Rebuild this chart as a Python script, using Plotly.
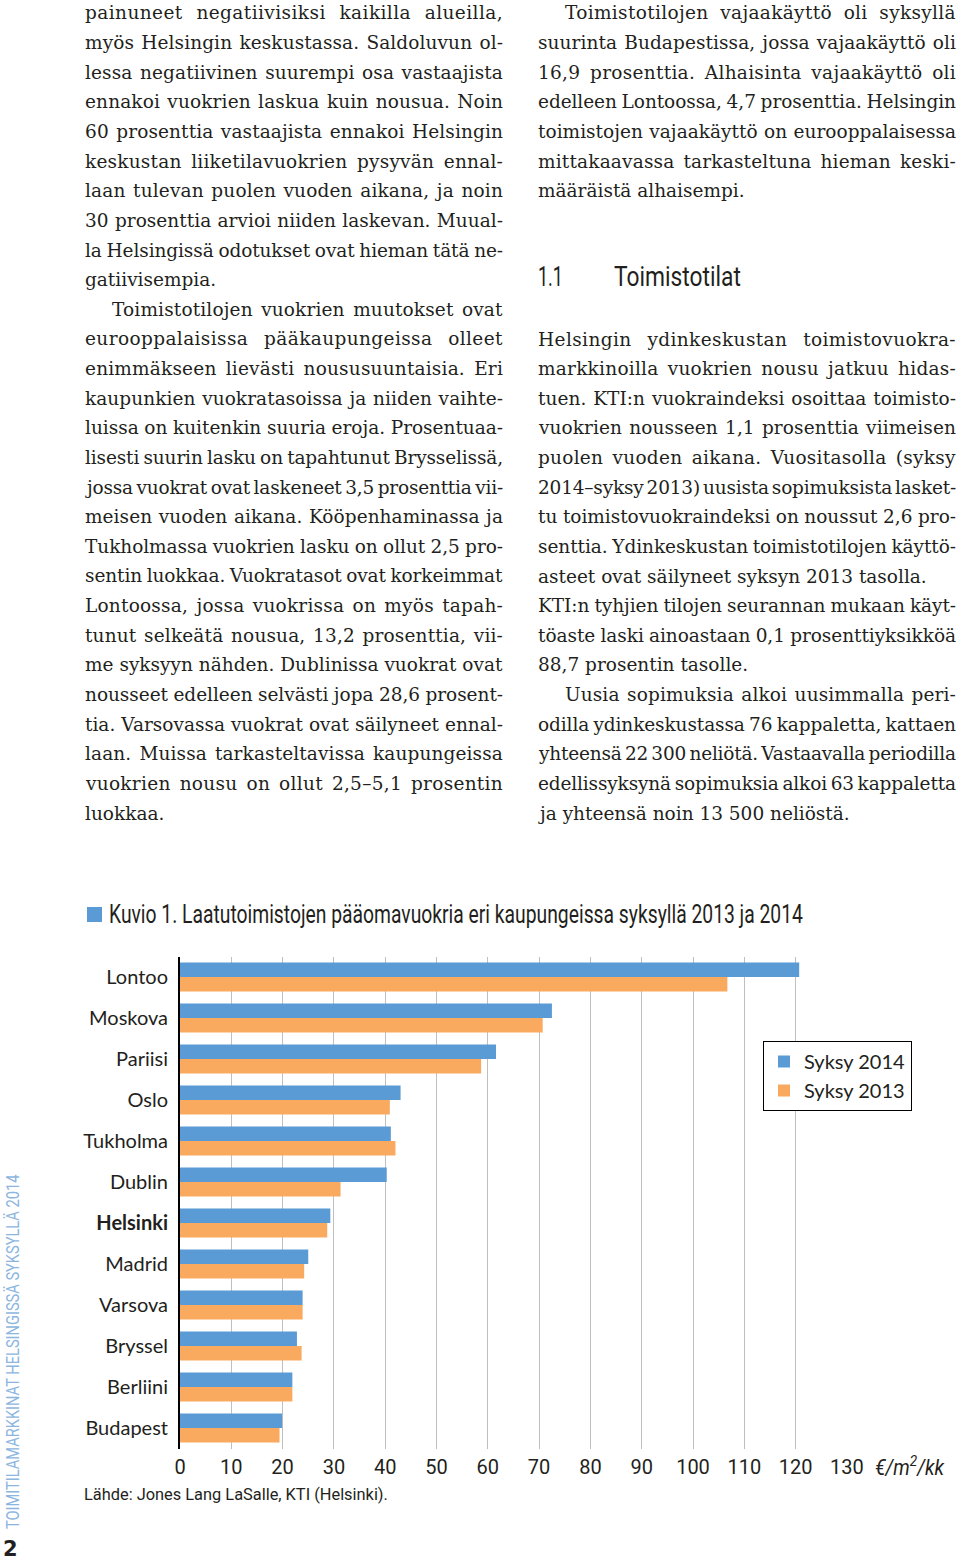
import json
import plotly.graph_objects as go

W, H = 960, 1561

cities = ["Lontoo", "Moskova", "Pariisi", "Oslo", "Tukholma", "Dublin", "Helsinki",
          "Madrid", "Varsova", "Bryssel", "Berliini", "Budapest"]
rent_2014 = [120.7, 72.5, 61.6, 43.0, 41.1, 40.3, 29.3, 25.0, 23.9, 22.8, 21.9, 19.9]
rent_2013 = [106.7, 70.7, 58.7, 40.9, 42.0, 31.3, 28.7, 24.2, 23.9, 23.7, 21.9, 19.4]
x_ticks = list(range(0, 140, 10))
series_names = ["Syksy 2014", "Syksy 2013"]

left_col = [
    "painuneet negatiivisiksi kaikilla alueilla,",
    "myös Helsingin keskustassa. Saldoluvun ol-",
    "lessa negatiivinen suurempi osa vastaajista",
    "ennakoi vuokrien laskua kuin nousua. Noin",
    "60 prosenttia vastaajista ennakoi Helsingin",
    "keskustan liiketilavuokrien pysyvän ennal-",
    "laan tulevan puolen vuoden aikana, ja noin",
    "30 prosenttia arvioi niiden laskevan. Muual-",
    "la Helsingissä odotukset ovat hieman tätä ne-",
    "gatiivisempia.",
    "Toimistotilojen vuokrien muutokset ovat",
    "eurooppalaisissa pääkaupungeissa olleet",
    "enimmäkseen lievästi noususuuntaisia. Eri",
    "kaupunkien vuokratasoissa ja niiden vaihte-",
    "luissa on kuitenkin suuria eroja. Prosentuaa-",
    "lisesti suurin lasku on tapahtunut Brysselissä,",
    "jossa vuokrat ovat laskeneet 3,5 prosenttia vii-",
    "meisen vuoden aikana. Kööpenhaminassa ja",
    "Tukholmassa vuokrien lasku on ollut 2,5 pro-",
    "sentin luokkaa. Vuokratasot ovat korkeimmat",
    "Lontoossa, jossa vuokrissa on myös tapah-",
    "tunut selkeätä nousua, 13,2 prosenttia, vii-",
    "me syksyyn nähden. Dublinissa vuokrat ovat",
    "nousseet edelleen selvästi jopa 28,6 prosent-",
    "tia. Varsovassa vuokrat ovat säilyneet ennal-",
    "laan. Muissa tarkasteltavissa kaupungeissa",
    "vuokrien nousu on ollut 2,5–5,1 prosentin",
    "luokkaa.",
]
left_indent = {10}
left_ragged = {9, 27}

right_top = [
    "Toimistotilojen vajaakäyttö oli syksyllä",
    "suurinta Budapestissa, jossa vajaakäyttö oli",
    "16,9 prosenttia. Alhaisinta vajaakäyttö oli",
    "edelleen Lontoossa, 4,7 prosenttia. Helsingin",
    "toimistojen vajaakäyttö on eurooppalaisessa",
    "mittakaavassa tarkasteltuna hieman keski-",
    "määräistä alhaisempi.",
]
right_top_indent = {0}
right_top_ragged = {6}

right_bottom = [
    "Helsingin ydinkeskustan toimistovuokra-",
    "markkinoilla vuokrien nousu jatkuu hidas-",
    "tuen. KTI:n vuokraindeksi osoittaa toimisto-",
    "vuokrien nousseen 1,1 prosenttia viimeisen",
    "puolen vuoden aikana. Vuositasolla (syksy",
    "2014–syksy 2013) uusista sopimuksista lasket-",
    "tu toimistovuokraindeksi on noussut 2,6 pro-",
    "senttia. Ydinkeskustan toimistotilojen käyttö-",
    "asteet ovat säilyneet syksyn 2013 tasolla.",
    "KTI:n tyhjien tilojen seurannan mukaan käyt-",
    "töaste laski ainoastaan 0,1 prosenttiyksikköä",
    "88,7 prosentin tasolle.",
    "Uusia sopimuksia alkoi uusimmalla peri-",
    "odilla ydinkeskustassa 76 kappaletta, kattaen",
    "yhteensä 22 300 neliötä. Vastaavalla periodilla",
    "edellissyksynä sopimuksia alkoi 63 kappaletta",
    "ja yhteensä noin 13 500 neliöstä.",
]
right_bottom_indent = {12}
right_bottom_ragged = {8, 11, 16}

BLUE = "#5B9BD5"
ORANGE = "#F9AA5F"
TEXT = "#231F20"
SERIF = "DejaVu Serif, serif"
COND = "Roboto, sans-serif"
CAL = "Lato, Open Sans, sans-serif"
BODY_SIZE = 18.5
LINE = 29.63

def px(x):
    return x / W

def py(y):
    return 1 - y / H

fig = go.Figure()
fig.add_trace(go.Bar(y=cities, x=rent_2014, name=series_names[0], orientation="h",
                     marker=dict(color=BLUE, line=dict(width=0))))
fig.add_trace(go.Bar(y=cities, x=rent_2013, name=series_names[1], orientation="h",
                     marker=dict(color=ORANGE, line=dict(width=0))))

ann = []
fit = []  # post-render text fitting: [annotation index, mode, target, pivot]

def add(text, x, y, font, xanchor="left", **kw):
    ann.append(dict(text=text, x=px(x), y=py(y), xref="paper", yref="paper",
                    xanchor=xanchor, yanchor="middle", showarrow=False, align="left",
                    font=font, **kw))
    return len(ann) - 1

def add_lines(lines, x0, y0, indents, ragged, right_edge):
    for i, t in enumerate(lines):
        idx = add(t, x0 - 3 + (27 if i in indents else 0), y0 + i * LINE,
                  dict(family=SERIF, size=BODY_SIZE, color=TEXT))
        if i not in ragged:
            fit.append([idx, "j", right_edge, "l"])

add_lines(left_col, 86, 13, left_indent, left_ragged, 503)
add_lines(right_top, 539, 13, right_top_indent, right_top_ragged, 956)
add_lines(right_bottom, 539, 339, right_bottom_indent, right_bottom_ragged, 956)

# heading
i = add("1.1", 536, 277, dict(family=COND, size=28, color=TEXT))
fit.append([i, "s", 25, "l"])
i = add("Toimistotilat", 612, 277, dict(family=COND, size=28, color=TEXT))
fit.append([i, "s", 127, "l"])

# chart title
i = add("Kuvio 1. Laatutoimistojen pääomavuokria eri kaupungeissa syksyllä 2013 ja 2014",
        107, 914, dict(family=COND, size=25, color=TEXT))
fit.append([i, "s", 694, "l"])
# unit
i = add("<i>€/m<sup>2</sup>/kk</i>", 873, 1466, dict(family=COND, size=22, color=TEXT))
fit.append([i, "s", 70, "l"])
# source
i = add("Lähde: Jones Lang LaSalle, KTI (Helsinki).", 82, 1494,
        dict(family=COND, size=17, color=TEXT))
fit.append([i, "s", 304, "l"])
# side text
i = add("TOIMITILAMARKKINAT HELSINGISSÄ SYKSYLLÄ 2014", 12, 1352,
        dict(family=COND, size=19, color="#8DB6DF"), xanchor="center", textangle=-90)
fit.append([i, "s", 355, "c"])
add("<b>2</b>", 10, 1549, dict(family="DejaVu Sans, sans-serif", size=21, color=TEXT),
    xanchor="center")

shapes = [dict(type="rect", xref="paper", yref="paper", x0=px(87), x1=px(102),
               y0=py(922), y1=py(907), fillcolor=BLUE, line=dict(width=0))]

tick_text = ["<b>Helsinki</b>" if c == "Helsinki" else c for c in cities]

fig.update_layout(
    width=W, height=H, margin=dict(l=0, r=0, t=0, b=0), autosize=False,
    paper_bgcolor="white", plot_bgcolor="white",
    barmode="group", bargap=0.29, bargroupgap=0,
    annotations=ann, shapes=shapes,
    legend=dict(x=px(763), y=py(1041), xanchor="left", yanchor="top",
                bordercolor="black", borderwidth=1, bgcolor="white",
                font=dict(family=CAL, size=20, color=TEXT), traceorder="normal",
                itemwidth=30),
    xaxis=dict(domain=[px(180), px(846.9)], range=[0, 130], tickvals=x_ticks,
               showgrid=True, gridcolor="#BFBFBF", gridwidth=1, zeroline=False,
               showline=False, ticks="", tickfont=dict(family=COND, size=20, color=TEXT),
               ticklabelstandoff=4, anchor="y", fixedrange=True, automargin=False),
    yaxis=dict(domain=[py(1448.5), py(956.5)], autorange="reversed",
               categoryorder="array", categoryarray=cities,
               tickvals=cities, ticktext=tick_text,
               showline=True, linecolor="black", linewidth=2, ticks="",
               ticklabelstandoff=6, automargin=False,
               tickfont=dict(family=CAL, size=20, color=TEXT), anchor="x"),
    showlegend=True,
)

post = """
document.documentElement.style.margin='0';document.body.style.margin='0';
document.body.style.padding='0';document.body.style.overflow='hidden';
document.documentElement.style.overflow='hidden';
(function(){
  var gd = document.getElementById('{plot_id}');
  var spec = FITSPEC;
  var gr = gd.getBoundingClientRect();
  spec.forEach(function(s){
    var g = gd.querySelector('.annotation[data-index="' + s[0] + '"]');
    if (!g) return;
    var t = g.querySelector('.annotation-text');
    if (!t) return;
    if (s[1] === 'j') {
      var r = t.getBoundingClientRect();
      var need = s[2] - (r.left - gr.left);
      var txt = t.textContent;
      var n = (txt.match(/ /g) || []).length;
      var nc = txt.length;
      var extra = need - r.width;
      var ls = Math.max(-0.5, Math.min(0.9, extra * 0.45 / nc));
      t.style.letterSpacing = ls + 'px';
      if (n > 0) {
        var r2 = t.getBoundingClientRect();
        var rem = s[2] - (r2.left - gr.left) - r2.width;
        t.style.wordSpacing = (rem / n) + 'px';
      }
    } else {
      var bb = t.getBBox();
      var sc = s[2] / bb.width;
      var piv = s[3] === 'c' ? bb.x + bb.width / 2 : bb.x;
      t.setAttribute('transform', 'matrix(' + sc + ',0,0,1,' + (piv * (1 - sc)) + ',0)');
    }
  });
})();
""".replace("FITSPEC", json.dumps(fit))

fig.write_html("out.html", config={"responsive": False, "displayModeBar": False},
               post_script=post)
